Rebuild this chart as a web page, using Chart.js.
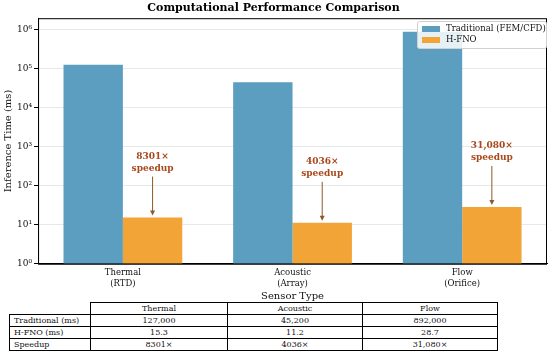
<!DOCTYPE html>
<html>
<head>
<meta charset="utf-8">
<script src="https://cdn.jsdelivr.net/npm/chart.js@4"></script>
<style>
  body { margin: 0; background: #fff; }
  #wrap { position: relative; width: 550px; height: 357px; }
  #chart { position: absolute; left: 0; top: 0; }
  table {
    position: absolute; left: 9px; top: 302px;
    border-collapse: collapse;
    font-family: "DejaVu Serif", serif; font-size: 8px; color: #111;
  }
  td { border: 1px solid #000; height: 11px; padding: 0 4px; text-align: center; line-height: 10px; }
  td.lab { text-align: left; width: 72px; }
  td.blank { border: none; }
</style>
</head>
<body>
<div id="wrap">
  <canvas id="chart" width="550" height="302"></canvas>
  <table id="tbl"></table>
</div>
<script>
// data
const categories = [['Thermal', '(RTD)'], ['Acoustic', '(Array)'], ['Flow', '(Orifice)']];
const tableCols = ['Thermal', 'Acoustic', 'Flow'];
const traditional = [127000, 45200, 892000];
const hfno = [15.3, 11.2, 28.7];
const speedupLabels = ['8301×', '4036×', '31,080×'];
const tradText = ['127,000', '45,200', '892,000'];
const hfnoText = ['15.3', '11.2', '28.7'];
const yTicks = [1, 10, 100, 1000, 10000, 100000, 1000000];
const supers = ['⁰', '¹', '²', '³', '⁴', '⁵', '⁶'];

const blue = '#5b9ec0';
const orange = '#f2a536';
const noteColor = '#a8481c';
const serif = '"DejaVu Serif", serif';

// table under the chart
const tbl = document.getElementById('tbl');
function addRow(cells, cls) {
  const tr = document.createElement('tr');
  cells.forEach((c, i) => {
    const td = document.createElement('td');
    td.textContent = c;
    if (i === 0) td.className = cls || 'lab';
    else td.style.width = i === 1 ? '128px' : '126px';
    tr.appendChild(td);
  });
  tbl.appendChild(tr);
}
addRow([''].concat(tableCols), 'blank');
addRow(['Traditional (ms)'].concat(tradText));
addRow(['H-FNO (ms)'].concat(hfnoText));
addRow(['Speedup'].concat(speedupLabels));

// plot frame + legend box + speedup notes
const extras = {
  id: 'extras',
  afterDraw(chart) {
    const ctx = chart.ctx;
    const a = chart.chartArea;
    const y = chart.scales.y;
    ctx.save();
    ctx.strokeStyle = '#000';
    ctx.lineWidth = 1;
    ctx.strokeRect(a.left + 0.5, a.top + 0.5, a.right - a.left - 1, a.bottom - a.top);

    // annotations
    const meta = chart.getDatasetMeta(1);
    ctx.font = 'bold 9px ' + serif;
    ctx.textAlign = 'center';
    ctx.textBaseline = 'middle';
    hfno.forEach((v, i) => {
      const bx = meta.data[i].x;
      const top = y.getPixelForValue(v);
      const cy = top - 55;
      ctx.fillStyle = noteColor;
      ctx.fillText(speedupLabels[i], bx, cy - 6);
      ctx.fillText('speedup', bx, cy + 6);
      ctx.strokeStyle = '#8a5a2a';
      ctx.fillStyle = '#8a5a2a';
      ctx.lineWidth = 1;
      ctx.beginPath();
      ctx.moveTo(bx, cy + 14);
      ctx.lineTo(bx, top - 4);
      ctx.stroke();
      ctx.beginPath();
      ctx.moveTo(bx, top - 2);
      ctx.lineTo(bx - 2.5, top - 7);
      ctx.lineTo(bx + 2.5, top - 7);
      ctx.closePath();
      ctx.fill();
    });

    // legend
    const lx = 417, ly = 21, lw = 129, lh = 27;
    ctx.fillStyle = 'rgba(255,255,255,0.85)';
    ctx.strokeStyle = '#d0d0d0';
    ctx.beginPath();
    ctx.roundRect(lx + 0.5, ly + 0.5, lw, lh, 2);
    ctx.fill();
    ctx.stroke();
    ctx.font = '8.5px ' + serif;
    ctx.textAlign = 'left';
    chart.data.datasets.forEach((ds, i) => {
      const ry = ly + 8 + i * 11;
      ctx.fillStyle = ds.backgroundColor;
      ctx.fillRect(lx + 5, ry - 3, 18, 6);
      ctx.fillStyle = '#111';
      ctx.fillText(ds.label, lx + 29, ry);
    });
    ctx.restore();
  }
};

new Chart(document.getElementById('chart'), {
  type: 'bar',
  data: {
    labels: categories,
    datasets: [
      { label: 'Traditional (FEM/CFD)', data: traditional, backgroundColor: blue },
      { label: 'H-FNO', data: hfno, backgroundColor: orange }
    ]
  },
  options: {
    responsive: false,
    animation: false,
    datasets: { bar: { categoryPercentage: 0.7, barPercentage: 1.0, borderWidth: 0 } },
    layout: { padding: { left: 0, right: 3, top: 0, bottom: 0 } },
    plugins: {
      legend: { display: false },
      tooltip: { enabled: false },
      title: {
        display: true,
        text: 'Computational Performance Comparison',
        color: '#000',
        font: { family: serif, size: 11, weight: 'bold' },
        padding: { top: 2, bottom: 3 }
      }
    },
    scales: {
      x: {
        grid: { display: false, drawTicks: true, tickLength: 3 },
        border: { color: '#000' },
        ticks: { color: '#111', font: { family: serif, size: 8.5, lineHeight: 1.25 }, padding: 1, maxRotation: 0 },
        title: { display: true, text: 'Sensor Type', color: '#111', font: { family: serif, size: 10 }, padding: { top: 0, bottom: 0 } }
      },
      y: {
        type: 'logarithmic',
        min: 1,
        max: 2000000,
        afterBuildTicks(axis) { axis.ticks = yTicks.map(v => ({ value: v })); },
        grid: { color: '#e8e8e8', tickLength: 4, tickColor: '#000' },
        border: { color: '#000' },
        ticks: {
          color: '#111', font: { family: serif, size: 9 }, padding: 2,
          callback: (v) => '10' + supers[Math.round(Math.log10(v))]
        },
        title: { display: true, text: 'Inference Time (ms)', color: '#111', font: { family: serif, size: 10 }, padding: { top: 2, bottom: 1 } }
      }
    }
  },
  plugins: [extras]
});
</script>
</body>
</html>
